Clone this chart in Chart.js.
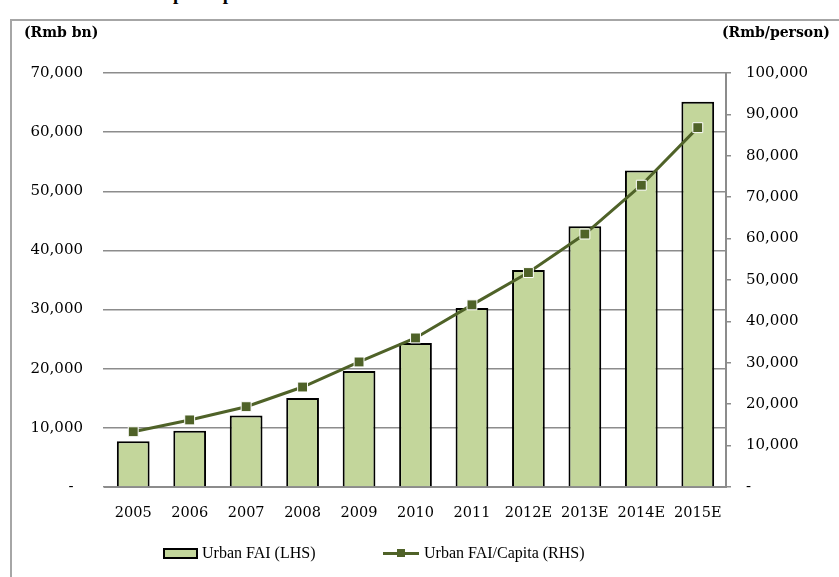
<!DOCTYPE html>
<html>
<head>
<meta charset="utf-8">
<script src="https://cdn.jsdelivr.net/npm/chart.js@4"></script>
<style>
    body { margin: 0; background: #fff; }
    #wrap { position: relative; width: 839px; height: 577px; overflow: hidden; }
    #title { position: absolute; left: 8px; top: -17px; font: bold 19px "Liberation Serif", serif; color: #000; white-space: nowrap; }
    #frame { position: absolute; left: 10px; top: 19px; width: 900px; height: 700px; border: 2px solid #a6a6a6; }
    .axis-title { position: absolute; top: 24px; font: bold 14px "DejaVu Serif", serif; color: #000; }
    #lhs-title { left: 24px; }
    #rhs-title { right: 9px; }
    #chart { position: absolute; left: 0; top: 0; }
    .legend { position: absolute; top: 543px; font: 16px "Liberation Serif", serif; color: #000; white-space: nowrap; }
    .legend span { display: inline-block; vertical-align: middle; }
    .swatch-bar { width: 31px; height: 7px; background: #c3d69b; border: 2px solid #000; margin-right: 4px; }
    .swatch-line { position: relative; width: 36px; height: 3px; background: #4f6228; margin-right: 5px; }
    .swatch-line i { position: absolute; left: 14px; top: -3px; width: 8px; height: 8px; background: #4f6228; }
</style>
</head>
<body>
<div id="wrap">
    <div id="title">Urban FAI and FAI per capita</div>
    <div id="frame"></div>
    <canvas id="chart" width="839" height="577"></canvas>
    <div class="axis-title" id="lhs-title">(Rmb bn)</div>
    <div class="axis-title" id="rhs-title">(Rmb/person)</div>
    <div class="legend" style="left:163px"><span class="swatch-bar"></span><span>Urban FAI (LHS)</span></div>
    <div class="legend" style="left:383px"><span class="swatch-line"><i></i></span><span>Urban FAI/Capita (RHS)</span></div>
</div>
<script>
var years = ['2005', '2006', '2007', '2008', '2009', '2010', '2011', '2012E', '2013E', '2014E', '2015E'];
var urbanFai = [7750, 9500, 12100, 15050, 19600, 24350, 30250, 36700, 44100, 53500, 65150];
var faiPerCapita = [13350, 16200, 19400, 24150, 30200, 36000, 44000, 51800, 61100, 72900, 86800];
var lhsTicks = [0, 10000, 20000, 30000, 40000, 50000, 60000, 70000];
var rhsTicks = [0, 10000, 20000, 30000, 40000, 50000, 60000, 70000, 80000, 90000, 100000];

var gridGrey = '#8c8c8c';
var valueFont = { family: 'DejaVu Serif', size: 15 };
var yearFont = { family: 'DejaVu Serif', size: 14.5 };

function fmt(v) {
    return v.toLocaleString('en-US');
}

var ctx = document.getElementById('chart').getContext('2d');
var chart = new Chart(ctx, {
    type: 'bar',
    data: {
        labels: years,
        datasets: [{
            type: 'line',
            label: 'Urban FAI/Capita (RHS)',
            data: faiPerCapita,
            yAxisID: 'y1',
            order: 0,
            borderColor: '#4f6228',
            borderWidth: 3,
            backgroundColor: '#4f6228',
            pointStyle: 'rect',
            pointRadius: 7,
            pointBorderColor: '#fff',
            pointBorderWidth: 1,
            pointBackgroundColor: '#4f6228',
            tension: 0
        }, {
            label: 'Urban FAI (LHS)',
            data: urbanFai,
            yAxisID: 'y',
            order: 1,
            backgroundColor: '#c3d69b',
            borderColor: '#000',
            borderWidth: 2,
            categoryPercentage: 1,
            barPercentage: 0.58
        }]
    },
    options: {
        responsive: false,
        animation: false,
        layout: { padding: { left: 0, right: 0, top: 73, bottom: 50 } },
        plugins: {
            legend: { display: false },
            tooltip: { enabled: false }
        },
        scales: {
            x: {
                grid: { display: false },
                border: { display: true, color: gridGrey, width: 2 },
                ticks: { color: '#000', font: yearFont, padding: 10, maxRotation: 0, autoSkip: false },
                afterFit: function(scale) { scale.height = 40; }
            },
            y: {
                position: 'left',
                min: 0,
                max: 70000,
                afterBuildTicks: function(scale) {
                    scale.ticks = lhsTicks.map(function(v) { return { value: v }; });
                },
                grid: { color: gridGrey, lineWidth: 1.5, tickLength: 2, drawTicks: true },
                border: { display: false },
                ticks: {
                    color: '#000',
                    font: valueFont,
                    padding: 20,
                    callback: function(v) { return v === 0 ? '-  ' : fmt(v); }
                },
                afterFit: function(scale) { scale.width = 105; }
            },
            y1: {
                position: 'right',
                min: 0,
                max: 100000,
                afterBuildTicks: function(scale) {
                    scale.ticks = rhsTicks.map(function(v) { return { value: v }; });
                },
                grid: { drawOnChartArea: false, color: gridGrey, lineWidth: 1.5, tickLength: 5 },
                border: { display: true, color: gridGrey, width: 2 },
                ticks: {
                    color: '#000',
                    font: valueFont,
                    padding: 15,
                    callback: function(v) { return v === 0 ? '-' : fmt(v); }
                },
                afterFit: function(scale) { scale.width = 113; }
            }
        }
    }
});
</script>
</body>
</html>
